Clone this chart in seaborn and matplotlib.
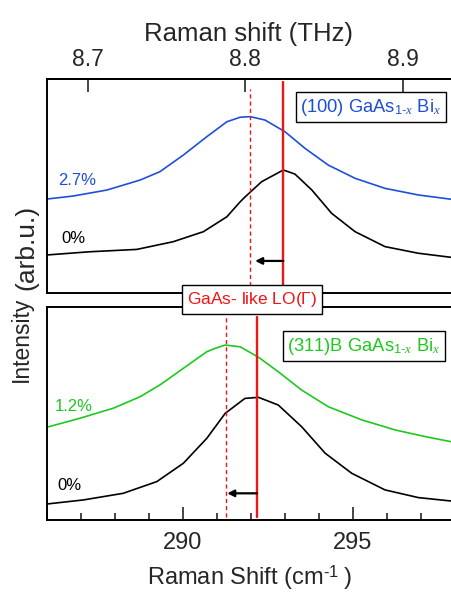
import matplotlib
matplotlib.use('Agg')
import matplotlib.pyplot as plt
import seaborn as sns

# values (Raman shift in cm^-1, intensity in arb. units)
# (100) panel
wn_100_bi = [286.0, 286.77, 287.76, 288.74, 289.32, 290.01, 290.70, 291.29, 291.68, 291.97,
             292.41, 293.0, 293.59, 294.27, 295.06, 295.94, 296.92, 297.88]
int_100_bi = [0.438, 0.452, 0.480, 0.527, 0.566, 0.644, 0.730, 0.800, 0.821, 0.824,
              0.808, 0.753, 0.675, 0.597, 0.535, 0.488, 0.457, 0.437]
wn_100_ref = [286.0, 287.26, 288.64, 289.71, 290.60, 291.29, 291.68, 291.82, 292.31, 292.95,
              293.29, 293.79, 294.37, 295.06, 295.94, 296.92, 297.88]
int_100_ref = [0.176, 0.191, 0.202, 0.238, 0.285, 0.355, 0.425, 0.447, 0.519, 0.574,
               0.555, 0.480, 0.371, 0.285, 0.215, 0.184, 0.165]

# (311)B panel
wn_311_bi = [286.0, 286.97, 287.95, 288.74, 289.32, 290.01, 290.70, 290.95, 291.24, 291.68,
             292.22, 292.80, 293.49, 294.27, 295.26, 296.24, 297.12, 297.88]
int_311_bi = [0.435, 0.477, 0.524, 0.578, 0.633, 0.711, 0.789, 0.805, 0.820, 0.812,
              0.763, 0.695, 0.609, 0.531, 0.469, 0.422, 0.391, 0.367]
wn_311_ref = [286.0, 287.07, 288.24, 289.23, 290.01, 290.70, 291.24, 291.82, 292.22, 292.80,
              293.49, 294.18, 294.96, 295.94, 296.92, 297.88]
int_311_ref = [0.075, 0.094, 0.125, 0.180, 0.266, 0.383, 0.500, 0.570, 0.575, 0.539,
               0.437, 0.313, 0.219, 0.141, 0.105, 0.089]

# LO(Gamma) positions: GaAs reference (solid) and GaAsBi (dashed), top / bottom
lo_ref = [292.95, 292.17]
lo_bi = [291.97, 291.26]
arrow_tip = [292.12, 291.30]

conc_labels = [('2.7%', '0%'), ('1.2%', '0%')]
box_labels = [r'(100) GaAs$_{\text{1-}x}$ Bi$_{x}$', r'(311)B GaAs$_{\text{1-}x}$ Bi$_{x}$']
thz_ticks = [8.7, 8.8, 8.9]

blue = '#1f4fd6'
green = '#1ec81e'
red = '#f01414'

sns.set_style('ticks')
plt.rcParams['font.family'] = ['Liberation Sans', 'DejaVu Sans']
plt.rcParams['mathtext.fontset'] = 'custom'
plt.rcParams['mathtext.rm'] = 'Liberation Sans'
plt.rcParams['mathtext.it'] = 'Liberation Serif:italic'
plt.rcParams['axes.linewidth'] = 1.4
plt.rcParams['axes.edgecolor'] = 'black'

fig = plt.figure(figsize=(4.51, 5.97), dpi=100)
ax1 = fig.add_axes([0.1042, 0.510, 0.8958, 0.3576])
ax2 = fig.add_axes([0.1042, 0.129, 0.8958, 0.3573])

xlim = (286.0, 297.88)

# top panel
sns.lineplot(x=wn_100_bi, y=int_100_bi, ax=ax1, color=blue, lw=1.2)
sns.lineplot(x=wn_100_ref, y=int_100_ref, ax=ax1, color='black', lw=1.2)
ax1.axvline(lo_ref[0], ymin=0, ymax=0.987, color=red, lw=1.7)
ax1.axvline(lo_bi[0], ymin=0, ymax=0.953, color=red, lw=1.0, ls=(0, (3, 2.2)))
ax1.annotate('', xy=(arrow_tip[0], 0.148), xytext=(lo_ref[0], 0.148),
             arrowprops=dict(arrowstyle='-|>', color='black', lw=1.6,
                             mutation_scale=10, shrinkA=0, shrinkB=0))
ax1.text(286.33, 0.524, conc_labels[0][0], color=blue, fontsize=12, va='center')
ax1.text(286.43, 0.251, conc_labels[0][1], color='black', fontsize=12, va='center')
ax1.text(0.8017, 0.868, box_labels[0], transform=ax1.transAxes, ha='center', va='center',
         color=blue, fontsize=13.2,
         bbox=dict(boxstyle='square,pad=0.25', fc='white', ec='black', lw=1.0))
ax1.set_xlim(xlim)
ax1.set_ylim(0, 1)
ax1.set_xticks([])
ax1.set_yticks([])
ax1.spines['right'].set_visible(False)

axt = ax1.twiny()
axt.set_xlim(8.6742, 8.9307)
axt.set_xticks(thz_ticks)
axt.set_xticklabels([f'{t:.1f}' for t in thz_ticks])
axt.tick_params(axis='x', direction='in', length=9.5, width=1.2, labelsize=16.5, pad=6)
axt.set_xlabel('Raman shift (THz)', fontsize=18.5, labelpad=5)
for s in ['right', 'left', 'bottom']:
    axt.spines[s].set_visible(False)

# bottom panel
sns.lineplot(x=wn_311_bi, y=int_311_bi, ax=ax2, color=green, lw=1.2)
sns.lineplot(x=wn_311_ref, y=int_311_ref, ax=ax2, color='black', lw=1.2)
ax2.axvline(lo_ref[1], ymin=0.015, ymax=0.95, color=red, lw=1.7)
ax2.axvline(lo_bi[1], ymin=0.015, ymax=0.95, color=red, lw=1.0, ls=(0, (3, 2.2)))
ax2.annotate('', xy=(arrow_tip[1], 0.125), xytext=(lo_ref[1], 0.125),
             arrowprops=dict(arrowstyle='-|>', color='black', lw=1.6,
                             mutation_scale=10, shrinkA=0, shrinkB=0))
ax2.text(286.24, 0.534, conc_labels[1][0], color=green, fontsize=12, va='center')
ax2.text(286.30, 0.164, conc_labels[1][1], color='black', fontsize=12, va='center')
ax2.text(0.7844, 0.814, box_labels[1], transform=ax2.transAxes, ha='center', va='center',
         color=green, fontsize=13.2,
         bbox=dict(boxstyle='square,pad=0.25', fc='white', ec='black', lw=1.0))
ax2.set_xlim(xlim)
ax2.set_ylim(0, 1)
ax2.set_yticks([])
ax2.set_xticks([290, 295])
ax2.set_xticks(range(286, 298), minor=True)
ax2.tick_params(axis='x', which='major', direction='in', length=9.5, width=1.2,
                labelsize=17, pad=9)
ax2.tick_params(axis='x', which='minor', direction='in', length=5, width=1.2)
ax2.set_xlabel(r'Raman Shift (cm$^{\text{-1}}\;$)', fontsize=17, labelpad=6)
ax2.spines['right'].set_visible(False)

# y label: "(arb.u.)" is set a bit larger than "Intensity" in the original
fig.text(0.0628, 0.3606, 'Intensity', rotation=90, rotation_mode='anchor',
         ha='left', va='baseline', fontsize=16.5)
fig.text(0.0745, 0.514, '(arb.u.)', rotation=90, rotation_mode='anchor',
         ha='left', va='baseline', fontsize=19)
fig.text(0.559, 0.498, r'GaAs- like LO($\Gamma$)', ha='center', va='center', color=red, fontsize=12.5,
         bbox=dict(boxstyle='square,pad=0.3', fc='white', ec='black', lw=1.0))

fig.savefig('out.png', dpi=100)
